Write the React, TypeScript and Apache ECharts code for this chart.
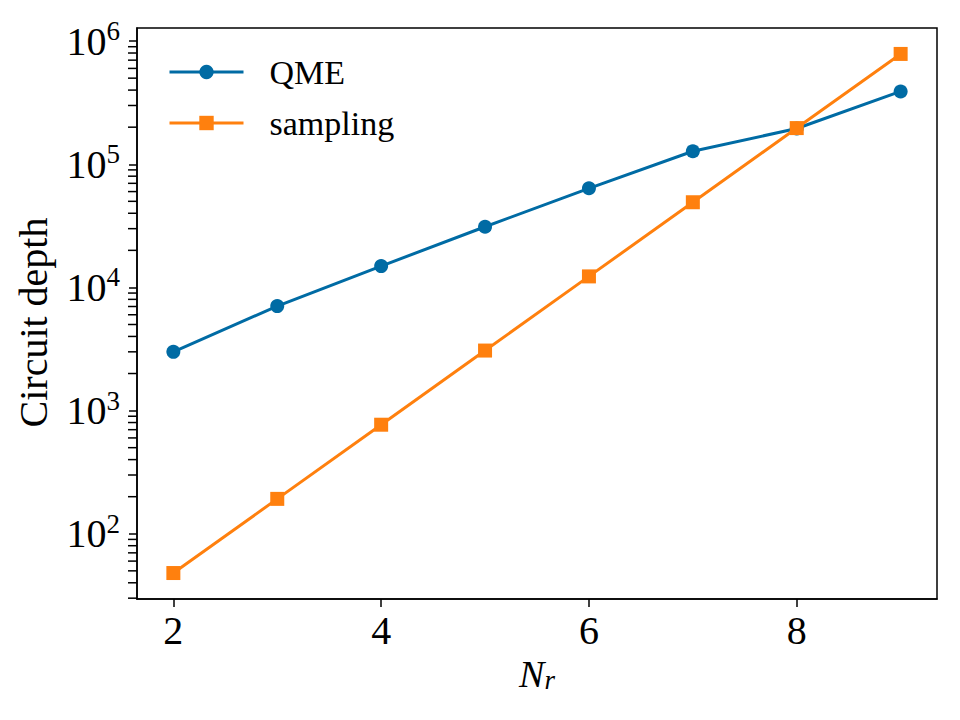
import React, { useEffect, useRef } from "react";
import * as echarts from "echarts";

const nr = [2, 3, 4, 5, 6, 7, 8, 9];
const qme = [3000, 7050, 14900, 31100, 63800, 127600, 195000, 390000];
const sampling = [48, 192, 768, 3072, 12288, 49152, 196608, 786432];
const xTicks = [2, 4, 6, 8];
const yMajor = [100, 1000, 10000, 100000, 1000000];
const yMinorFactors = [2, 3, 4, 5, 6, 7, 8, 9];
const yDecades = [10, 100, 1000, 10000, 100000, 1000000];

const FONT = "Liberation Serif";
const BLUE = "#006BA4";
const ORANGE = "#FF800E";
const X_MIN = 1.65;
const X_MAX = 9.35;
const Y_MIN = 29.54;
const Y_MAX = 1.277e6;

export default function App() {
  const ref = useRef<HTMLDivElement>(null);
  useEffect(() => {
    document.body.style.margin = "0";
    const chart = echarts.init(ref.current!, null, { renderer: "svg" });
    const yMinor: number[] = [];
    yDecades.forEach((d) => yMinorFactors.forEach((k) => yMinor.push(k * d)));
    const minorTicks = yMinor.filter((v) => v > Y_MIN && v < Y_MAX);
    chart.setOption({
      animation: false,
      backgroundColor: "#fff",
      textStyle: { fontFamily: FONT },
      grid: {
        left: 137,
        right: 23,
        top: 28,
        bottom: 121,
        show: true,
        borderColor: "#000",
        borderWidth: 1.5,
        backgroundColor: "transparent",
      },
      legend: {
        left: 168,
        top: 55,
        orient: "vertical",
        padding: 0,
        itemWidth: 74,
        itemHeight: 18,
        itemGap: 17,
        lineStyle: { width: 3 },
        textStyle: {
          fontFamily: FONT,
          fontSize: 34,
          color: "#000",
          lineHeight: 34,
          padding: [0, 0, 0, 21],
        },
        data: ["QME", "sampling"],
      },
      xAxis: {
        type: "value",
        min: X_MIN,
        max: X_MAX,
        name: "{i|N}{s|r}",
        nameLocation: "middle",
        nameGap: 52,
        nameTextStyle: {
          rich: {
            i: { fontFamily: FONT, fontStyle: "italic", fontSize: 38, color: "#000" },
            s: { fontFamily: FONT, fontStyle: "italic", fontSize: 27, color: "#000", padding: [12, 0, 0, 0] },
          },
        },
        axisLine: { show: true, lineStyle: { color: "#000", width: 1.5 } },
        axisTick: { show: true, length: 8, lineStyle: { color: "#000", width: 1.5 }, customValues: xTicks },
        axisLabel: {
          color: "#000",
          fontFamily: FONT,
          fontSize: 40,
          margin: 11,
          customValues: xTicks,
        },
        splitLine: { show: false },
      },
      yAxis: {
        type: "log",
        logBase: 10,
        min: Y_MIN,
        max: Y_MAX,
        name: "Circuit depth",
        nameLocation: "middle",
        nameGap: 84,
        nameTextStyle: { fontFamily: FONT, fontSize: 40, color: "#000", padding: [0, 18, 0, 0] },
        axisLine: { show: true, lineStyle: { color: "#000", width: 1.5 } },
        axisTick: { show: true, length: 8, lineStyle: { color: "#000", width: 1.5 }, customValues: yMajor },
        axisLabel: {
          margin: 17,
          customValues: yMajor,
          formatter: (v: number) => `{b|10}{s|${Math.round(Math.log10(v))}}`,
          rich: {
            b: { fontFamily: FONT, fontSize: 40, color: "#000" },
            s: { fontFamily: FONT, fontSize: 27, color: "#000", padding: [0, 0, 20, 0] },
          },
        },
        splitLine: { show: false },
        minorTick: { show: false },
      },
      series: [
        {
          name: "minorTicks",
          type: "scatter",
          silent: true,
          clip: false,
          data: minorTicks.map((v) => [X_MIN, v]),
          symbol: "rect",
          symbolSize: [9, 1.5],
          symbolOffset: [-4.5, 0],
          itemStyle: { color: "#000", opacity: 1 },
          emphasis: { disabled: true },
          z: 5,
        },
        {
          name: "QME",
          type: "line",
          data: nr.map((x, i) => [x, qme[i]]),
          symbol: "circle",
          symbolSize: 14,
          lineStyle: { color: BLUE, width: 3 },
          itemStyle: { color: BLUE },
        },
        {
          name: "sampling",
          type: "line",
          data: nr.map((x, i) => [x, sampling[i]]),
          symbol: "rect",
          symbolSize: 14,
          lineStyle: { color: ORANGE, width: 3 },
          itemStyle: { color: ORANGE },
        },
      ],
    });
    return () => chart.dispose();
  }, []);
  return <div ref={ref} style={{ width: 960, height: 720 }} />;
}
